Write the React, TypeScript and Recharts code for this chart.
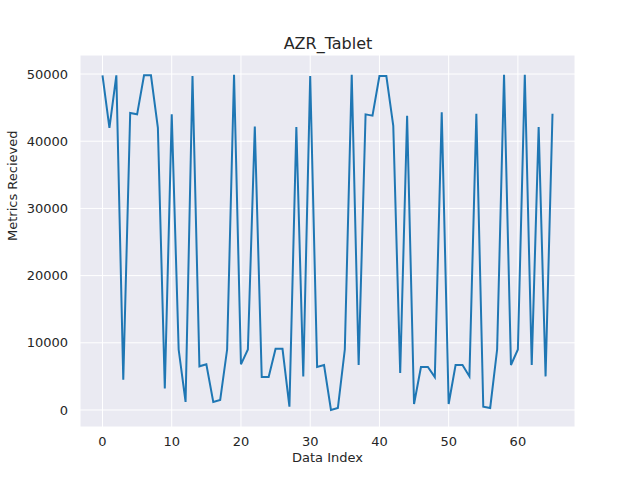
import { CartesianGrid, Line, LineChart, XAxis, YAxis } from "recharts";

const metrics = [
  49800, 42000, 49800, 4500, 44200, 44000, 49800, 49800, 42000, 3200,
  44000, 9000, 1200, 49700, 6500, 6800, 1200, 1500, 9000, 49900,
  6800, 9000, 42200, 4900, 4900, 9100, 9100, 500, 42100, 5000,
  49700, 6400, 6700, 0, 300, 9000, 49900, 6700, 44000, 43800,
  49700, 49700, 42300, 5500, 43800, 900, 6400, 6400, 4900, 44300,
  900, 6700, 6700, 5000, 44100, 500, 300, 9000, 49900, 6700,
  9000, 49900, 6700, 42100, 5000, 44100,
];
const xTicks = [0, 10, 20, 30, 40, 50, 60];
const yTicks = [0, 10000, 20000, 30000, 40000, 50000];

const data = metrics.map((v, i) => ({ idx: i, value: v }));
const font = "DejaVu Sans, sans-serif";

export default function App() {
  return (
    <div style={{ position: "absolute", left: 0, top: 0, width: 640, height: 480, background: "#fff", fontFamily: font }}>
      <div style={{ position: "absolute", top: 34, width: 640, left: 8, textAlign: "center", fontSize: 16, color: "#262626" }}>
        AZR_Tablet
      </div>
      <LineChart width={640} height={480} data={data} margin={{ top: 55, right: 65, bottom: 0, left: 0 }}>
        <CartesianGrid stroke="#fff" fill="#eaeaf2" strokeWidth={1} />
        <XAxis
          dataKey="idx"
          type="number"
          domain={[-3.25, 68.25]}
          ticks={xTicks}
          tickLine={false}
          axisLine={false}
          tick={{ fill: "#262626", fontSize: 13, fontFamily: font }}
          tickMargin={4}
          height={53}
          label={{ value: "Data Index", position: "insideBottom", offset: 18, fill: "#262626", fontSize: 13, fontFamily: font }}
        />
        <YAxis
          type="number"
          domain={[-2530, 52830]}
          ticks={yTicks}
          tickLine={false}
          axisLine={false}
          tick={{ fill: "#262626", fontSize: 13, fontFamily: font }}
          tickMargin={6}
          width={80}
          label={{ value: "Metrics Recieved", angle: -90, position: "insideLeft", offset: 12, fill: "#262626", fontSize: 13, fontFamily: font }}
        />
        <Line dataKey="value" stroke="#1f77b4" strokeWidth={2} dot={false} isAnimationActive={false} />
      </LineChart>
    </div>
  );
}
